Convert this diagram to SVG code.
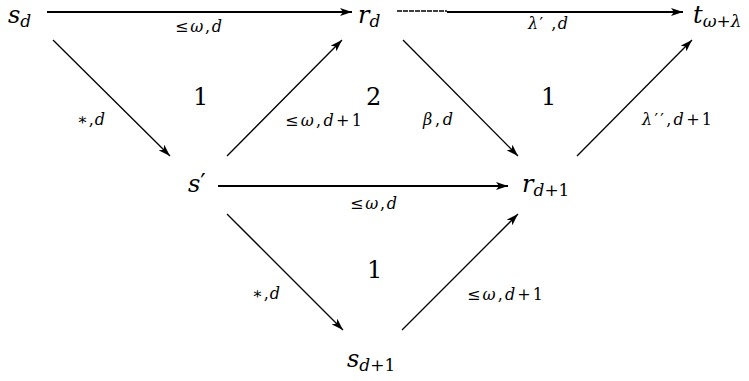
<svg xmlns="http://www.w3.org/2000/svg" width="749" height="381" viewBox="0 0 749 381" font-family="'DejaVu Serif', serif">
<style>
text{font-family:"DejaVu Serif",serif;fill:#000}
.n{font-size:24px;font-style:italic}
.sub{font-size:17px}
.lb{font-size:16px}
.i{font-style:italic}
.u{font-style:normal}
.rg{font-size:24px}
.e{stroke:#000;stroke-width:1.3;fill:none}
.h{stroke:#000;stroke-width:2;fill:none}
</style>
<defs>
<marker id="a" viewBox="0 0 12 8" refX="12" refY="4" markerWidth="12" markerHeight="8" markerUnits="userSpaceOnUse" orient="auto">
<path d="M0,0 L12,4 L0,8 L3,4 Z" fill="#000"/>
</marker>
</defs>
<rect width="749" height="381" fill="#fff"/>
<g id="connectors">
<line class="h" x1="47" y1="12" x2="352" y2="12" marker-end="url(#a)"/>
<line x1="397" y1="11" x2="447" y2="11" stroke="#000" stroke-width="1.6" stroke-dasharray="5 1"/>
<line class="h" x1="447" y1="12" x2="683" y2="12" marker-end="url(#a)"/>
<line class="e" x1="53" y1="40" x2="170" y2="156" marker-end="url(#a)"/>
<line class="e" x1="227" y1="156" x2="342" y2="40" marker-end="url(#a)"/>
<line class="e" x1="403" y1="40" x2="518" y2="156" marker-end="url(#a)"/>
<line class="e" x1="577" y1="156" x2="692" y2="40" marker-end="url(#a)"/>
<line class="h" x1="218" y1="186" x2="508" y2="186" marker-end="url(#a)"/>
<line class="e" x1="227" y1="214" x2="343" y2="330" marker-end="url(#a)"/>
<line class="e" x1="402" y1="330" x2="518" y2="214" marker-end="url(#a)"/>
</g>
<g id="edge-labels" class="lb">
<text x="175" y="32" textLength="47" lengthAdjust="spacing"><tspan class="u">≤</tspan><tspan class="i">ω</tspan>,<tspan class="i">d</tspan></text>
<text x="528" y="29" textLength="40" lengthAdjust="spacing"><tspan class="i">λ</tspan>′ ,<tspan class="i">d</tspan></text>
<text x="77" y="125" textLength="28" lengthAdjust="spacing">∗,<tspan class="i">d</tspan></text>
<text x="285" y="126" textLength="77" lengthAdjust="spacing"><tspan class="u">≤</tspan><tspan class="i">ω</tspan>,<tspan class="i">d</tspan>+1</text>
<text x="423" y="125" textLength="30" lengthAdjust="spacing"><tspan class="i">β</tspan>,<tspan class="i">d</tspan></text>
<text x="642" y="125" textLength="70" lengthAdjust="spacing"><tspan class="i">λ</tspan>′′,<tspan class="i">d</tspan>+1</text>
<text x="350" y="209" textLength="47" lengthAdjust="spacing"><tspan class="u">≤</tspan><tspan class="i">ω</tspan>,<tspan class="i">d</tspan></text>
<text x="252" y="299" textLength="28" lengthAdjust="spacing">∗,<tspan class="i">d</tspan></text>
<text x="467" y="300" textLength="76" lengthAdjust="spacing"><tspan class="u">≤</tspan><tspan class="i">ω</tspan>,<tspan class="i">d</tspan>+1</text>
</g>
<g id="regions" class="rg">
<text x="193" y="105">1</text>
<text x="366" y="105">2</text>
<text x="541" y="105">1</text>
<text x="367" y="278">1</text>
</g>
<g id="node-sd"><text class="n" x="8" y="23">s<tspan class="sub" dy="4">d</tspan></text></g>
<g id="node-rd"><text class="n" x="358" y="23">r<tspan class="sub" dy="4">d</tspan></text></g>
<g id="node-t"><text class="n" x="693" y="23">t<tspan class="sub" dy="4">ω<tspan font-style="normal">+</tspan>λ</tspan></text></g>
<g id="node-sp"><text class="n" x="188" y="192">s<tspan font-style="normal" dy="-1" font-size="24">′</tspan></text></g>
<g id="node-rd1"><text class="n" x="522" y="192">r<tspan class="sub" dy="4">d<tspan font-style="normal">+1</tspan></tspan></text></g>
<g id="node-sd1"><text class="n" x="347" y="367">s<tspan class="sub" dy="4">d<tspan font-style="normal">+1</tspan></tspan></text></g>
</svg>
